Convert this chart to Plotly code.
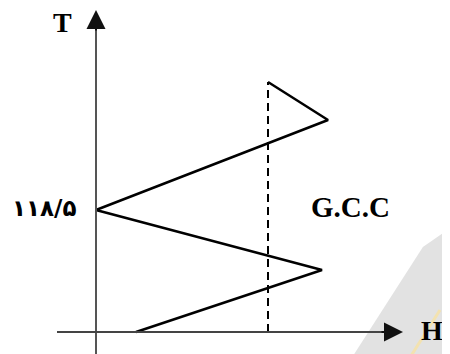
import plotly.graph_objects as go

# grand composite curve points (H, T)
h = [20, 113, 0, 116, 86]
t = [88, 103.5, 118.5, 141, 150.5]
pinch_t = 118.5
pinch_label = "۱۱۸/۵"
dash_h = 86

# page has an 8px body margin, ranges take that into account
h_min, h_max = -44, 181
t_min, t_max = 80.5, 169

fig = go.Figure()

# gcc line
fig.add_trace(go.Scatter(x=h, y=t, mode="lines",
                         line=dict(color="black", width=2.5),
                         showlegend=False, hoverinfo="skip"))
# dashed vertical
fig.add_trace(go.Scatter(x=[dash_h, dash_h], y=[t[0], t[-1]], mode="lines",
                         line=dict(color="black", width=2, dash="8px,5px"),
                         showlegend=False, hoverinfo="skip"))

serif = "Liberation Serif"
shapes = [
    # watermark in the corner
    dict(type="path", xref="paper", yref="paper", layer="below",
         path="M 0.758 0 L 0.922 0.325 L 1 0.394 L 1 0 Z",
         fillcolor="#e2e2e2", line=dict(width=0)),
    dict(type="line", xref="paper", yref="paper", layer="below",
         x0=0.887, y0=0, x1=0.96, y1=0.147,
         line=dict(color="#f3e2b0", width=3)),
    # axis lines
    dict(type="line", xref="x", yref="y", x0=0, x1=0, y0=82.5, y1=165,
         line=dict(color="#555", width=2)),
    dict(type="line", xref="x", yref="y", x0=-19.5, x1=147, y0=t[0], y1=t[0],
         line=dict(color="#444", width=2)),
]

ann = []
# arrow heads
ann.append(dict(x=0, y=168.5, ax=0, ay=163, xref="x", yref="y",
                axref="x", ayref="y", showarrow=True, arrowhead=2,
                arrowsize=1.9, arrowwidth=2, arrowcolor="#111", text=""))
ann.append(dict(x=153.5, y=t[0], ax=142, ay=t[0], xref="x", yref="y",
                axref="x", ayref="y", showarrow=True, arrowhead=2,
                arrowsize=1.9, arrowwidth=2, arrowcolor="#111", text=""))
ann.append(dict(x=-17, y=165.5, xref="x", yref="y", text="<b>T</b>",
                showarrow=False, font=dict(family=serif, size=28, color="black")))
ann.append(dict(x=168, y=88.3, xref="x", yref="y", text="<b>H</b>",
                showarrow=False, font=dict(family=serif, size=28, color="black")))
ann.append(dict(x=127, y=119.2, xref="x", yref="y", text="<b>G.C.C</b>",
                showarrow=False, font=dict(family=serif, size=29, color="black")))
ann.append(dict(x=-26, y=pinch_t + 0.6, xref="x", yref="y",
                text="<b>" + pinch_label + "</b>", showarrow=False,
                font=dict(family="DejaVu Sans", size=23, color="black")))

fig.update_layout(
    width=450, height=354,
    margin=dict(l=0, r=0, t=0, b=0),
    paper_bgcolor="white", plot_bgcolor="white",
    xaxis=dict(range=[h_min, h_max], visible=False, fixedrange=True),
    yaxis=dict(range=[t_min, t_max], visible=False, fixedrange=True),
    annotations=ann, shapes=shapes,
)

fig.write_html("out.html")
